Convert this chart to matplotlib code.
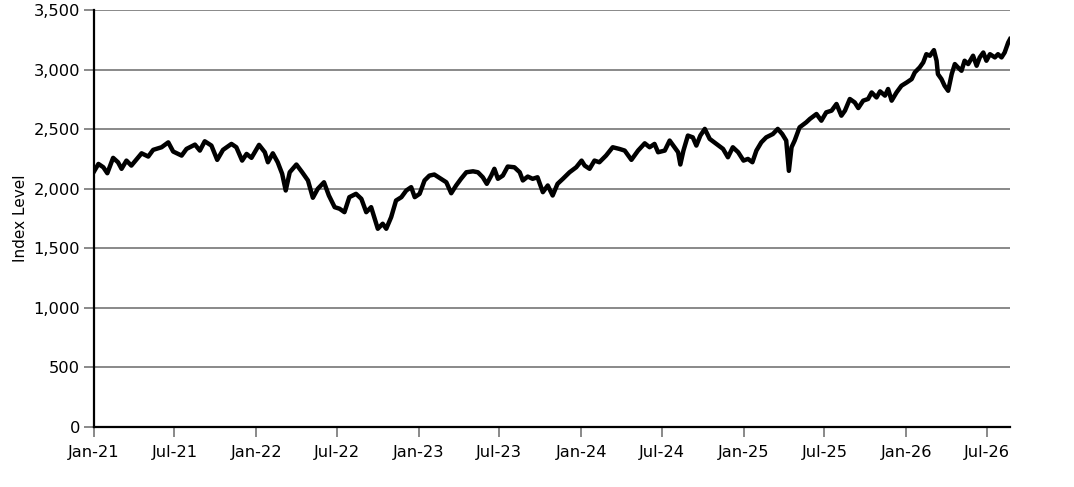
import matplotlib
matplotlib.use("Agg")
import matplotlib.pyplot as plt
import matplotlib.dates as mdates
import matplotlib.ticker as mticker
import pandas as pd

# index level
dates = [
    "2021-01-01", "2021-01-11", "2021-01-22", "2021-01-31", "2021-02-13", "2021-02-24",
    "2021-03-04", "2021-03-15", "2021-03-26", "2021-04-18", "2021-05-03", "2021-05-14",
    "2021-06-02", "2021-06-17", "2021-06-28", "2021-07-17", "2021-07-28", "2021-08-16",
    "2021-08-27", "2021-09-07", "2021-09-22", "2021-10-05", "2021-10-18", "2021-11-06",
    "2021-11-17", "2021-11-30", "2021-12-10", "2021-12-21", "2022-01-07", "2022-01-20",
    "2022-01-27", "2022-02-07", "2022-02-18", "2022-02-28", "2022-03-08", "2022-03-17",
    "2022-04-01", "2022-04-14", "2022-04-27", "2022-05-08", "2022-05-19", "2022-06-02",
    "2022-06-13", "2022-06-26", "2022-07-07", "2022-07-18", "2022-07-29", "2022-08-13",
    "2022-08-25", "2022-09-05", "2022-09-16", "2022-09-24", "2022-10-01", "2022-10-12",
    "2022-10-20", "2022-10-31", "2022-11-11", "2022-11-23", "2022-12-04", "2022-12-15",
    "2022-12-23", "2023-01-03", "2023-01-14", "2023-01-25", "2023-02-05", "2023-02-20",
    "2023-03-04", "2023-03-15", "2023-03-26", "2023-04-06", "2023-04-18", "2023-05-03",
    "2023-05-14", "2023-05-25", "2023-06-03", "2023-06-13", "2023-06-20", "2023-06-28",
    "2023-07-09", "2023-07-20", "2023-08-04", "2023-08-16", "2023-08-23", "2023-09-03",
    "2023-09-14", "2023-09-25", "2023-10-07", "2023-10-18", "2023-10-29", "2023-11-09",
    "2023-11-21", "2023-12-06", "2023-12-21", "2024-01-02", "2024-01-09", "2024-01-20",
    "2024-01-31", "2024-02-11", "2024-02-26", "2024-03-12", "2024-03-27", "2024-04-08",
    "2024-04-23", "2024-05-08", "2024-05-23", "2024-06-03", "2024-06-14", "2024-06-22",
    "2024-07-07", "2024-07-18", "2024-07-29", "2024-08-06", "2024-08-11", "2024-08-18",
    "2024-08-28", "2024-09-08", "2024-09-16", "2024-09-25", "2024-10-05", "2024-10-16",
    "2024-10-31", "2024-11-15", "2024-11-26", "2024-12-07", "2024-12-19", "2024-12-31",
    "2025-01-10", "2025-01-20", "2025-01-29", "2025-02-09", "2025-02-20", "2025-03-07",
    "2025-03-18", "2025-03-28", "2025-04-06", "2025-04-12", "2025-04-18", "2025-04-25",
    "2025-05-06", "2025-05-21", "2025-05-29", "2025-06-13", "2025-06-24", "2025-07-05",
    "2025-07-17", "2025-07-28", "2025-08-08", "2025-08-16", "2025-08-27", "2025-09-07",
    "2025-09-15", "2025-09-26", "2025-10-07", "2025-10-15", "2025-10-26", "2025-11-03",
    "2025-11-14", "2025-11-21", "2025-11-29", "2025-12-10", "2025-12-21", "2026-01-02",
    "2026-01-13", "2026-01-20", "2026-01-31", "2026-02-08", "2026-02-15", "2026-02-23",
    "2026-03-04", "2026-03-10", "2026-03-13", "2026-03-21", "2026-03-28", "2026-04-05",
    "2026-04-13", "2026-04-20", "2026-04-27", "2026-05-05", "2026-05-12", "2026-05-20",
    "2026-05-31", "2026-06-08", "2026-06-15", "2026-06-23", "2026-06-30", "2026-07-08",
    "2026-07-19", "2026-07-26", "2026-08-03", "2026-08-10", "2026-08-18", "2026-08-22",
]
index_level = [
    2144, 2208, 2180, 2130, 2259, 2222,
    2167, 2236, 2194, 2297, 2270, 2326,
    2348, 2389, 2312, 2278, 2334, 2370,
    2320, 2398, 2362, 2242, 2326, 2376,
    2348, 2236, 2292, 2259, 2368, 2306,
    2222, 2297, 2222, 2125, 1985, 2138,
    2203, 2138, 2069, 1924, 1999, 2054,
    1943, 1845, 1832, 1803, 1929, 1957,
    1915, 1803, 1845, 1748, 1664, 1706,
    1664, 1761, 1901, 1929, 1985, 2013,
    1929, 1957, 2069, 2110, 2119, 2083,
    2054, 1962, 2027, 2083, 2138, 2146,
    2138, 2096, 2041, 2110, 2167, 2083,
    2110, 2186, 2180, 2138, 2069, 2102,
    2083, 2096, 1971, 2027, 1943, 2041,
    2083, 2138, 2180, 2236, 2194, 2167,
    2236, 2222, 2278, 2348, 2334, 2320,
    2242, 2320, 2381, 2348, 2376, 2306,
    2320, 2404, 2348, 2306, 2203, 2320,
    2446, 2431, 2362, 2446, 2502, 2418,
    2376, 2334, 2264, 2348, 2306, 2236,
    2250, 2222, 2320, 2389, 2431, 2459,
    2502, 2459, 2404, 2150, 2348, 2404,
    2515, 2557, 2585, 2627, 2571, 2641,
    2655, 2711, 2613, 2655, 2753, 2724,
    2677, 2739, 2753, 2808, 2766, 2817,
    2781, 2837, 2739, 2808, 2864, 2892,
    2920, 2976, 3018, 3060, 3129, 3116,
    3163, 3074, 2962, 2920, 2864, 2822,
    2962, 3046, 3018, 2990, 3074, 3046,
    3116, 3032, 3102, 3143, 3074, 3129,
    3102, 3129, 3102, 3143, 3227, 3255,
]

x = pd.to_datetime(dates)

fig = plt.figure(figsize=(10.74, 4.87), dpi=100)
ax = fig.add_axes([0.0875, 0.1232, 0.8529, 0.8563])

ax.plot(x, index_level, color="black", linewidth=3.2, solid_joinstyle="round")

ax.set_xlim(pd.Timestamp("2021-01-01"), pd.Timestamp("2026-08-22"))
ax.set_ylim(0, 3500)
ax.yaxis.set_major_locator(mticker.MultipleLocator(500))
ax.yaxis.set_major_formatter(mticker.StrMethodFormatter("{x:,.0f}"))
ax.xaxis.set_major_locator(mdates.MonthLocator(bymonth=[1, 7]))
ax.xaxis.set_major_formatter(mdates.DateFormatter("%b-%y"))

ax.grid(axis="y", color="#808080", linewidth=1.3)
ax.set_axisbelow(True)
for side in ["top", "right"]:
    ax.spines[side].set_visible(False)
for side in ["left", "bottom"]:
    ax.spines[side].set_color("black")
    ax.spines[side].set_linewidth(1.6)

ax.tick_params(axis="y", length=7, width=1.3, color="#808080", labelsize=11.7, pad=3)
ax.tick_params(axis="x", length=7, width=1.3, color="#808080", labelsize=11.7, pad=6)
ax.set_ylabel("Index Level", fontsize=11, labelpad=4)

fig.savefig("out.png", dpi=100)
